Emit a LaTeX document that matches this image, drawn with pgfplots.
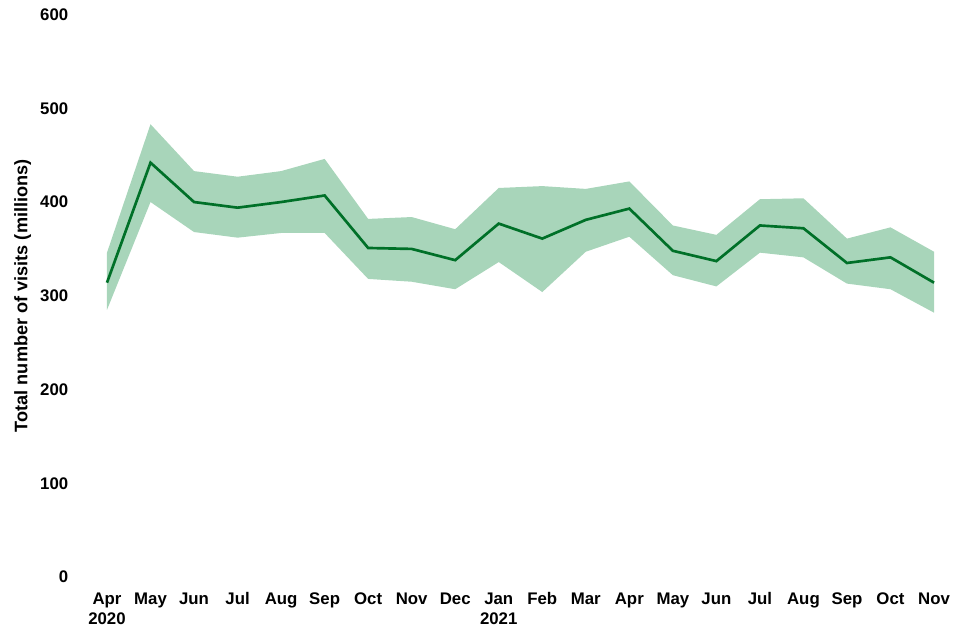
\documentclass[border=0pt]{standalone}
\usepackage{pgfplots}
\pgfplotsset{compat=1.18}
\usepgfplotslibrary{fillbetween}
\usepackage{fontspec}
\setmainfont{Liberation Sans}
\definecolor{linegreen}{RGB}{0,112,40}
\definecolor{bandgreen}{RGB}{168,213,186}
\begin{document}
\begin{tikzpicture}
\begin{axis}[
  scale only axis,
  width=620.25pt, height=421.9pt,
  xmin=0, xmax=19, ymin=0, ymax=600,
  axis line style={draw=none},
  major tick length=0pt,
  ytick={0,100,...,600},
  xtick={0,...,19},
  xticklabels={Apr\\2020,May,Jun,Jul,Aug,Sep,Oct,Nov,Dec,Jan\\2021,Feb,Mar,Apr,May,Jun,Jul,Aug,Sep,Oct,Nov},
  tick label style={font=\fontsize{12.6}{15}\selectfont\bfseries},
  /pgf/number format/assume math mode=true,
  xticklabel style={align=center, anchor=north, yshift=-8pt},
  yticklabel style={anchor=east, xshift=-25.5pt},
  ylabel={Total number of visits (millions)},
  ylabel style={font=\fontsize{13.6}{16}\selectfont\bfseries, at={(axis description cs:-0.086,0.5)}, anchor=south, rotate=0},
  clip=false,
]
\coordinate (bl) at (axis cs:-2.458,-67.2);
\coordinate (tr) at (axis cs:19.597,615.5);
\addplot[name path=up, draw=none] coordinates {
(0,346)(1,483)(2,433)(3,427)(4,433)(5,446)(6,382)(7,384)(8,371)(9,415)(10,417)(11,414)(12,422)(13,375)(14,365)(15,403)(16,404)(17,361)(18,373)(19,347)};
\addplot[name path=lo, draw=none] coordinates {
(0,285)(1,400)(2,368)(3,362)(4,367)(5,367)(6,318)(7,315)(8,307)(9,336)(10,304)(11,347)(12,363)(13,322)(14,310)(15,346)(16,341)(17,313)(18,307)(19,282)};
\addplot[bandgreen, draw=none] fill between[of=up and lo];
\addplot[linegreen, line width=2pt] coordinates {
(0,314)(1,442)(2,400)(3,394)(4,400)(5,407)(6,351)(7,350)(8,338)(9,377)(10,361)(11,381)(12,393)(13,348)(14,337)(15,375)(16,372)(17,335)(18,341)(19,314)};
\end{axis}
\pgfresetboundingbox
\useasboundingbox (bl) rectangle (tr);
\end{tikzpicture}
\end{document}
